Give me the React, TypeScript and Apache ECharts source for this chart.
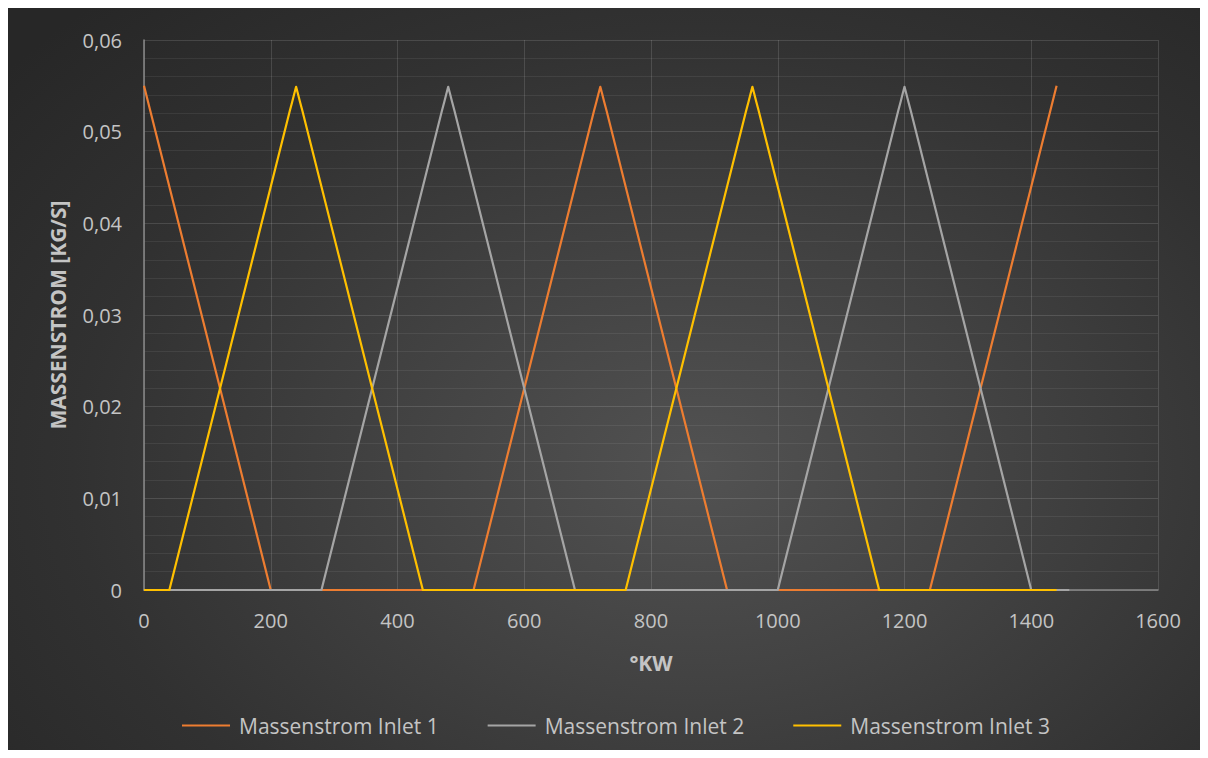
import React, { useEffect, useRef } from "react";
import * as echarts from "echarts";

const seriesNames = ["Massenstrom Inlet 1", "Massenstrom Inlet 2", "Massenstrom Inlet 3"];
const seriesColors = ["#ED7D31", "#A5A5A5", "#FFC000"];

// [°KW, kg/s]
const inlet1: number[][] = [
  [0, 0.055], [200, 0], [520, 0], [710, 0.05225], [714, 0.0533], [717, 0.0541], [720, 0.0549], [723, 0.0541], [726, 0.0533], [730, 0.05225],
  [920, 0], [1240, 0], [1440, 0.055],
];
const inlet2: number[][] = [
  [0, 0], [280, 0], [470, 0.05225], [474, 0.0533], [477, 0.0541], [480, 0.0549], [483, 0.0541], [486, 0.0533], [490, 0.05225], [680, 0],
  [1000, 0], [1190, 0.05225], [1194, 0.0533], [1197, 0.0541], [1200, 0.0549], [1203, 0.0541], [1206, 0.0533], [1210, 0.05225], [1400, 0], [1460, 0],
];
const inlet3: number[][] = [
  [0, 0], [40, 0], [230, 0.05225], [234, 0.0533], [237, 0.0541], [240, 0.0549], [243, 0.0541], [246, 0.0533], [250, 0.05225], [440, 0],
  [760, 0], [950, 0.05225], [954, 0.0533], [957, 0.0541], [960, 0.0549], [963, 0.0541], [966, 0.0533], [970, 0.05225], [1160, 0], [1440, 0],
];
const seriesData = [inlet1, inlet2, inlet3];

const xTitle = "°KW";
const yTitle = "MASSENSTROM [KG/S]";

export default function App() {
  const ref = useRef<HTMLDivElement>(null);
  useEffect(() => {
    if (!ref.current) return;
    const chart = echarts.init(ref.current, undefined, { renderer: "svg" });
    const font = "'Open Sans', sans-serif";
    chart.setOption({
      animation: false,
      backgroundColor: "transparent",
      textStyle: { fontFamily: font },
      grid: { left: 136, right: 42, top: 32, bottom: 160 },
      legend: {
        bottom: 9,
        left: 169,
        icon: "rect",
        itemWidth: 48,
        itemHeight: 2,
        itemGap: 49,
        textStyle: { color: "#c4c4c4", fontSize: 21, fontFamily: font, padding: [0, 0, 0, 4] },
        data: seriesNames,
      },
      xAxis: {
        type: "value",
        min: 0,
        max: 1600,
        interval: 200,
        name: xTitle,
        nameLocation: "middle",
        nameGap: 62,
        nameTextStyle: { color: "#c4c4c4", fontSize: 21, fontWeight: "bold", fontFamily: font },
        axisLine: { show: true, onZero: false, lineStyle: { color: "#8a8a8a", width: 1.5 } },
        axisTick: { show: false },
        axisLabel: { color: "#c4c4c4", fontSize: 20, margin: 20, fontFamily: font, formatter: (v: number) => String(v) },
        splitLine: { show: true, lineStyle: { color: "rgba(255,255,255,0.13)", width: 1 } },
      },
      yAxis: {
        type: "value",
        min: 0,
        max: 0.06,
        interval: 0.01,
        name: yTitle,
        nameLocation: "middle",
        nameGap: 76,
        nameTextStyle: { color: "#c4c4c4", fontSize: 21, fontWeight: "bold", fontFamily: font },
        axisLine: { show: true, lineStyle: { color: "#8a8a8a", width: 1.5 } },
        axisTick: { show: false },
        axisLabel: {
          color: "#c4c4c4",
          fontSize: 20,
          margin: 22,
          fontFamily: font,
          formatter: (v: number) => (v === 0 ? "0" : v.toFixed(2).replace(".", ",")),
        },
        splitLine: { show: true, lineStyle: { color: "rgba(255,255,255,0.13)", width: 1 } },
        minorTick: { show: false, splitNumber: 5 },
        minorSplitLine: { show: true, lineStyle: { color: "rgba(255,255,255,0.07)", width: 1 } },
      },
      series: seriesData.map((d, i) => ({
        name: seriesNames[i],
        type: "line",
        data: d,
        showSymbol: false,
        symbol: "none",
        smooth: false,
        lineStyle: { color: seriesColors[i], width: 2.2, join: "round" },
        itemStyle: { color: seriesColors[i] },
        z: 2 + (i === 1 ? 2 : i),
      })),
    });
    return () => chart.dispose();
  }, []);
  return (
    <div
      ref={ref}
      style={{
        width: 1192,
        height: 742,
        background:
          "radial-gradient(ellipse 75% 85% at 58% 62%, #525252 0%, #424242 35%, #313131 70%, #272727 100%)",
      }}
    />
  );
}
